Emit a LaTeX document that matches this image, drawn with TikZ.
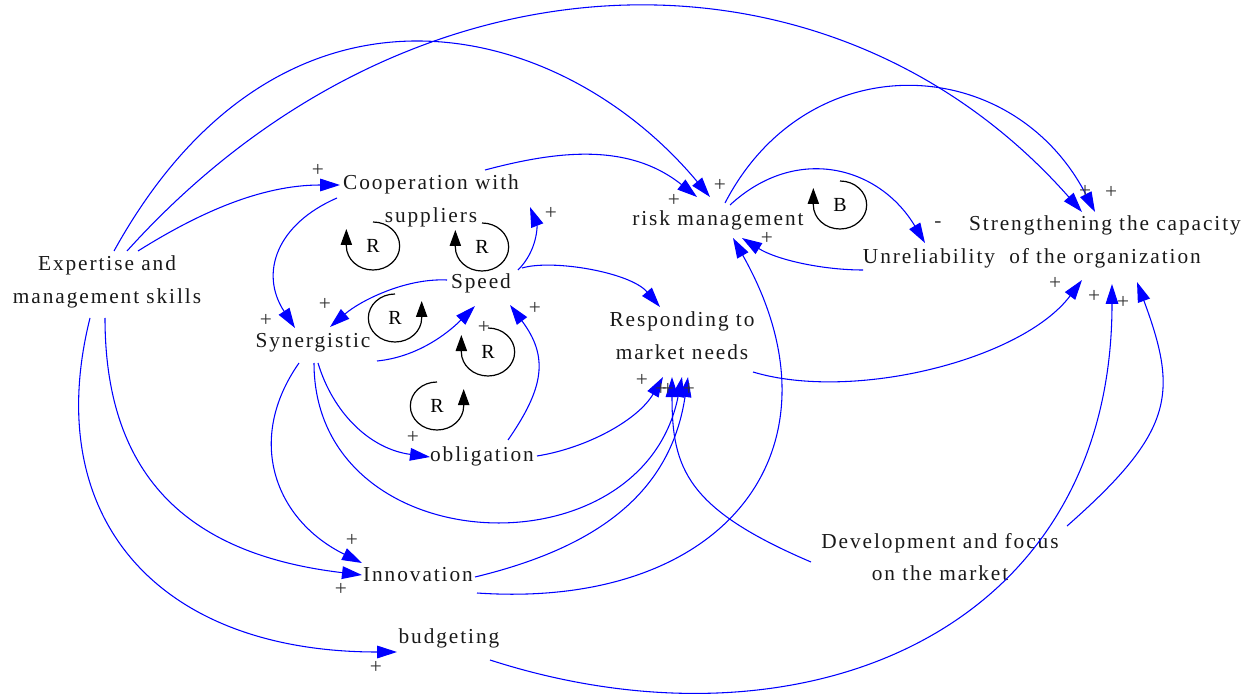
\documentclass[tikz,border=0pt]{standalone}
\usepackage{fontspec}
\setmainfont{Liberation Serif}[LetterSpace=9]
\usetikzlibrary{arrows.meta,calc}

\begin{document}
\begin{tikzpicture}[x=0.75pt,y=-0.75pt,
  var/.style={font=\fontsize{16}{24.5}\selectfont, inner sep=0pt, align=center, text=black!90},
  pol/.style={font=\fontsize{16}{16}\selectfont, inner sep=0pt, text=black!80},
  link/.style={draw=blue, line width=0.8pt, -{Triangle[length=15pt,width=9.5pt]}},
  loopline/.style={draw=black, line width=0.9pt, -{Triangle[length=12pt,width=8.5pt]}},
  looplbl/.style={font=\fontsize{15}{15}\selectfont, inner sep=0pt}
]
\useasboundingbox (0,0) rectangle (1255,698);

% ---------- variables ----------
\node[var] (exp)    at (107,282)  {Expertise and\\management skills};
\node[var] (coop)   at (431,201)  {Cooperation with\\suppliers};
\node[var] (risk)   at (718,220)  {risk management};
\node[var] (unrel)  at (929,258)  {Unreliability};
\node[var] (stren)  at (1105,242) {Strengthening the capacity\\of the organization};
\node[var] (speed)  at (481,283)  {Speed};
\node[var] (syn)    at (313,343)  {Synergistic};
\node[var] (resp)   at (682,336)  {Responding to\\market needs};
\node[var] (oblig)  at (482,456)  {obligation};
\node[var] (innov)  at (418,575)  {Innovation};
\node[var] (dev)    at (940,557)  {Development and focus\\on the market};
\node[var] (budg)   at (449,638)  {budgeting};

% ---------- causal links ----------
% from Expertise and management skills
\draw[link] ($(exp)+(7,-31)$)  .. controls +(167,-302) and +(-151,-181) .. ($(risk)+(-8,-23)$);
\draw[link] ($(exp)+(20,-31)$) .. controls +(285,-316) and +(-249,-282) .. ($(stren)+(-23,-30)$);
\draw[link] ($(exp)+(31,-31)$) .. controls +(59,-37) and +(-80,0) .. ($(coop)+(-91,-16)$);
\draw[link] ($(exp)+(-2,36)$)  .. controls +(0,163) and +(-169,-20) .. ($(innov)+(-56,0)$);
\draw[link] ($(exp)+(-17,36)$) .. controls +(-50,200) and +(-239,0) .. ($(budg)+(-52,14)$);

% from Cooperation with suppliers
\draw[link] ($(coop)+(-94,-3)$) .. controls +(-60,26) and +(-36,-55) .. ($(syn)+(-18,-15)$);
\draw[link] ($(coop)+(54,-31)$) .. controls +(68,-18) and +(-70,-56) .. ($(risk)+(-21,-23)$);

% from risk management
\draw[link] ($(risk)+(7,-17)$)  .. controls +(83,-160) and +(-83,-160) .. ($(stren)+(-10,-30)$);
\draw[link] ($(risk)+(12,-15)$) .. controls +(66,-61) and +(-46,-77) .. ($(unrel)+(-4,-15)$);

% from Unreliability
\draw[link] ($(unrel)+(-66,12)$) .. controls +(-40,0) and +(35,22) .. ($(risk)+(24,18)$);

% from Speed
\draw[link] ($(speed)+(37,-13)$) .. controls +(20,-20) and +(7,18) .. ($(coop)+(99,6)$);
\draw[link] ($(speed)+(41,-15)$) .. controls +(30,-9) and +(-30,-35) .. ($(resp)+(-22,-29)$);
\draw[link] ($(speed)+(-34,-3)$) .. controls +(-42,-2) and +(30,-26) .. ($(syn)+(17,-16)$);

% from Synergistic
\draw[link] ($(syn)+(64,18)$)  .. controls +(40,-4) and +(-28,28) .. ($(speed)+(-6,23)$);
\draw[link] ($(syn)+(5,20)$)   .. controls +(15,50) and +(-60,-8) .. ($(oblig)+(-52,1)$);
\draw[link] ($(syn)+(1,20)$)   .. controls +(0,200) and +(-40,200) .. ($(resp)+(0,41)$);
\draw[link] ($(syn)+(-14,20)$) .. controls +(-54,77) and +(-87,-43) .. ($(innov)+(-56,-12)$);

% from obligation
\draw[link] ($(oblig)+(26,-16)$) .. controls +(36,-52) and +(39,52) .. ($(speed)+(29,22)$);
\draw[link] ($(oblig)+(55,0)$)   .. controls +(50,-8) and +(-25,43) .. ($(resp)+(-19,41)$);

% from Innovation
\draw[link] ($(innov)+(57,2)$)  .. controls +(116,-28) and +(-18,120) .. ($(resp)+(6,41)$);
\draw[link] ($(innov)+(59,18)$) .. controls +(250,17) and +(118,209) .. ($(risk)+(15,18)$);

% from Development and focus on the market
\draw[link] ($(dev)+(-129,5)$) .. controls +(-124,-53) and +(0,92) .. ($(resp)+(-10,41)$);
\draw[link] ($(dev)+(127,-31)$) .. controls +(108,-95) and +(41,111) .. ($(stren)+(32,40)$);

% from budgeting
\draw[link] ($(budg)+(41,22)$) .. controls +(310,100) and +(0,350) .. ($(stren)+(7,42)$);

% from Responding to market needs
\draw[link] ($(resp)+(71,36)$) .. controls +(100,30) and +(-60,80) .. ($(stren)+(-23,38)$);

% ---------- polarities ----------
\node[pol] (p1)  at (318,170)  {+};
\node[pol] (p2)  at (266,320)  {+};
\node[pol] (p3)  at (325,304)  {+};
\node[pol] (p4)  at (551,213)  {+};
\node[pol] (p5)  at (535,308)  {+};
\node[pol] (p6)  at (484,327)  {+};
\node[pol] (p7)  at (413,437)  {+};
\node[pol] (p8)  at (642,380)  {+};
\node[pol] (p9)  at (661,389)  {+};
\node[pol] (p10) at (668,389)  {+};
\node[pol] (p11) at (689,389)  {+};
\node[pol] (p12) at (674,200)  {+};
\node[pol] (p13) at (720,185)  {+};
\node[pol] (p14) at (767,238)  {+};
\node[pol] (m1)  at (938,225)  {-};
\node[pol] (p15) at (1085,191) {+};
\node[pol] (p16) at (1111,192) {+};
\node[pol] (p17) at (1055,283) {+};
\node[pol] (p18) at (1094,296) {+};
\node[pol] (p19) at (1123,302) {+};
\node[pol] (p20) at (352,540)  {+};
\node[pol] (p21) at (341,589)  {+};
\node[pol] (p22) at (376,667)  {+};

% ---------- loop markers ----------
\node[looplbl] (r1) at (373,246) {R};
\draw[loopline] ($(r1)+(0,-24)$) arc[start angle=90, end angle=-180, x radius=20pt, y radius=18pt] -- ++(0,-17);
\node[looplbl] (r2) at (482,247) {R};
\draw[loopline] ($(r2)+(0,-24)$) arc[start angle=90, end angle=-180, x radius=20pt, y radius=18pt] -- ++(0,-17);
\node[looplbl] (r3) at (395,318) {R};
\draw[loopline] ($(r3)+(0,-24)$) arc[start angle=90, end angle=360, x radius=20pt, y radius=18pt] -- ++(0,-17);
\node[looplbl] (r4) at (488,352) {R};
\draw[loopline] ($(r4)+(0,-24)$) arc[start angle=90, end angle=-180, x radius=20pt, y radius=18pt] -- ++(0,-17);
\node[looplbl] (r5) at (437,406) {R};
\draw[loopline] ($(r5)+(0,-24)$) arc[start angle=90, end angle=360, x radius=20pt, y radius=18pt] -- ++(0,-17);
\node[looplbl] (bl) at (840,205) {B};
\draw[loopline] ($(bl)+(0,-24)$) arc[start angle=90, end angle=-180, x radius=20pt, y radius=18pt] -- ++(0,-17);

\end{tikzpicture}
\end{document}
